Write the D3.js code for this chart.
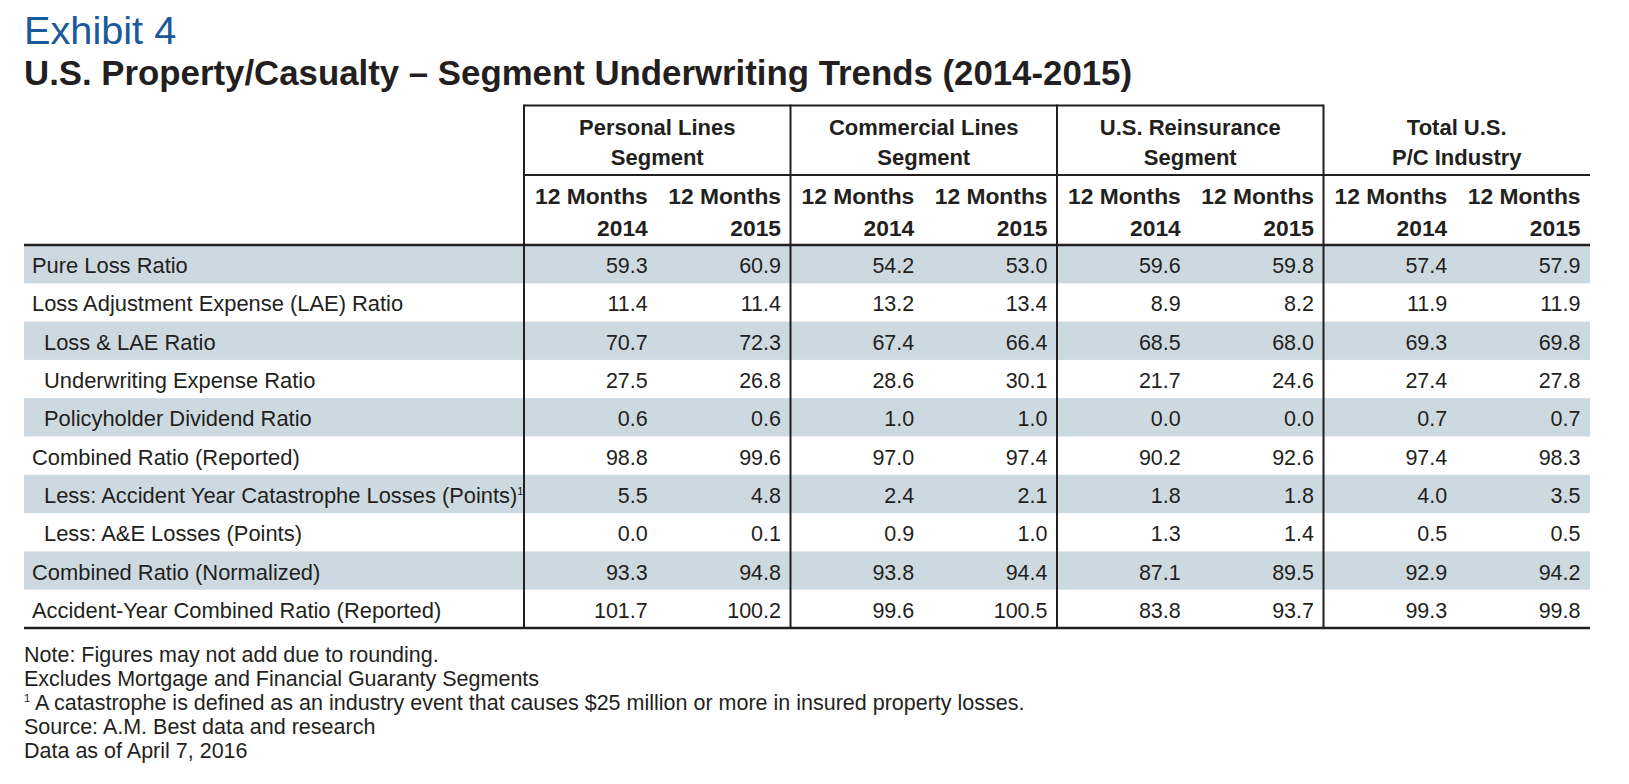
<!DOCTYPE html>
<html>
<head>
<meta charset="utf-8">
<script src="https://cdn.jsdelivr.net/npm/d3@7"></script>
<style>
  html, body { margin: 0; padding: 0; background: #ffffff; }
  svg { display: block; }
  text { font-family: "Liberation Sans", Arial, Helvetica, sans-serif; fill: #231f20; }
</style>
</head>
<body>
<svg id="chart" width="1629" height="784"></svg>
<script>
// ---------- DATA ----------
const exhibitLabel = "Exhibit 4";
const chartTitle = "U.S. Property/Casualty \u2013 Segment Underwriting Trends (2014-2015)";

const segmentKeys = ["personal", "commercial", "reinsurance", "total"];
const segmentLine1 = ["Personal Lines", "Commercial Lines", "U.S. Reinsurance", "Total U.S."];
const segmentLine2 = ["Segment", "Segment", "Segment", "P/C Industry"];
const periodKeys = ["2014", "2015"];
const periodLine1 = ["12 Months", "12 Months"];

const rowLabels = [
  "Pure Loss Ratio",
  "Loss Adjustment Expense (LAE) Ratio",
  "Loss & LAE Ratio",
  "Underwriting Expense Ratio",
  "Policyholder Dividend Ratio",
  "Combined Ratio (Reported)",
  "Less: Accident Year Catastrophe Losses (Points)",
  "Less: A&E Losses (Points)",
  "Combined Ratio (Normalized)",
  "Accident-Year Combined Ratio (Reported)"
];
const rowIndented = [false, false, true, true, true, false, true, true, false, false];
const rowFootnoteMark = ["", "", "", "", "", "", "1", "", "", ""];

const personal2014    = [59.3, 11.4, 70.7, 27.5, 0.6, 98.8, 5.5, 0.0, 93.3, 101.7];
const personal2015    = [60.9, 11.4, 72.3, 26.8, 0.6, 99.6, 4.8, 0.1, 94.8, 100.2];
const commercial2014  = [54.2, 13.2, 67.4, 28.6, 1.0, 97.0, 2.4, 0.9, 93.8, 99.6];
const commercial2015  = [53.0, 13.4, 66.4, 30.1, 1.0, 97.4, 2.1, 1.0, 94.4, 100.5];
const reinsurance2014 = [59.6, 8.9, 68.5, 21.7, 0.0, 90.2, 1.8, 1.3, 87.1, 83.8];
const reinsurance2015 = [59.8, 8.2, 68.0, 24.6, 0.0, 92.6, 1.8, 1.4, 89.5, 93.7];
const total2014       = [57.4, 11.9, 69.3, 27.4, 0.7, 97.4, 4.0, 0.5, 92.9, 99.3];
const total2015       = [57.9, 11.9, 69.8, 27.8, 0.7, 98.3, 3.5, 0.5, 94.2, 99.8];

const footnotes = [
  {mark: "", text: "Note: Figures may not add due to rounding."},
  {mark: "", text: "Excludes Mortgage and Financial Guaranty Segments"},
  {mark: "1", text: " A catastrophe is defined as an industry event that causes $25 million or more in insured property losses."},
  {mark: "", text: "Source: A.M. Best data and research"},
  {mark: "", text: "Data as of April 7, 2016"}
];

// table built from the arrays
const seriesValues = {
  personal:    {"2014": personal2014,    "2015": personal2015},
  commercial:  {"2014": commercial2014,  "2015": commercial2015},
  reinsurance: {"2014": reinsurance2014, "2015": reinsurance2015},
  total:       {"2014": total2014,       "2015": total2015}
};

// ---------- LAYOUT ----------
const ink = "#231f20";
const shade = "#cdd9e1";
const tableLeft = 24, tableRight = 1590;
const boxTop = 105.5, groupLineY = 175, headerBottom = 245, tableBottom = 628;
const segLeft = 524;

const svg = d3.select("#chart");

const xSeg = d3.scaleBand().domain(segmentKeys).range([segLeft, tableRight]);
const xPer = d3.scaleBand().domain(periodKeys).range([0, xSeg.bandwidth()]);
const yRow = d3.scaleBand().domain(rowLabels).range([headerBottom, tableBottom]);
const fmt = d3.format(".1f");
const colRight = (s, p) => xSeg(s) + xPer(p) + xPer.bandwidth() - 9.5;

// Titles
svg.append("text")
  .attr("x", 24).attr("y", 44)
  .style("font-size", "39.7px")
  .style("fill", "#1a5a9c")
  .text(exhibitLabel);

svg.append("text")
  .attr("x", 24).attr("y", 85)
  .style("font-size", "34.8px")
  .style("font-weight", "bold")
  .text(chartTitle);

// Row shading
svg.append("g").selectAll("rect")
  .data(rowLabels.filter((d, i) => i % 2 === 0))
  .join("rect")
  .attr("x", tableLeft)
  .attr("y", d => yRow(d))
  .attr("width", tableRight - tableLeft)
  .attr("height", yRow.bandwidth())
  .attr("fill", shade);

// Group headers
const gHead = svg.append("g");
segmentKeys.forEach((s, i) => {
  const cx = xSeg(s) + xSeg.bandwidth() / 2;
  gHead.append("text").attr("x", cx).attr("y", 135)
    .attr("text-anchor", "middle")
    .style("font-size", "22px").style("font-weight", "bold")
    .text(segmentLine1[i]);
  gHead.append("text").attr("x", cx).attr("y", 165)
    .attr("text-anchor", "middle")
    .style("font-size", "22px").style("font-weight", "bold")
    .text(segmentLine2[i]);
  periodKeys.forEach((p, j) => {
    gHead.append("text").attr("x", colRight(s, p)).attr("y", 204)
      .attr("text-anchor", "end")
      .style("font-size", "22.8px").style("font-weight", "bold")
      .text(periodLine1[j]);
    gHead.append("text").attr("x", colRight(s, p)).attr("y", 235.5)
      .attr("text-anchor", "end")
      .style("font-size", "22.8px").style("font-weight", "bold")
      .text(p);
  });
});

// Row labels
const gLab = svg.append("g");
rowLabels.forEach((r, i) => {
  const t = gLab.append("text")
    .attr("x", rowIndented[i] ? 44 : 32)
    .attr("y", yRow(r) + yRow.bandwidth() / 2 + 9)
    .style("font-size", "21.9px")
    .text(r);
  if (rowFootnoteMark[i]) {
    t.append("tspan")
      .attr("dy", -8)
      .style("font-size", "11px")
      .text(rowFootnoteMark[i]);
  }
});

// Values
const gVal = svg.append("g");
segmentKeys.forEach(s => {
  periodKeys.forEach(p => {
    gVal.selectAll(null)
      .data(seriesValues[s][p])
      .join("text")
      .attr("x", colRight(s, p))
      .attr("y", (d, i) => yRow(rowLabels[i]) + yRow.bandwidth() / 2 + 9)
      .attr("text-anchor", "end")
      .style("font-size", "21.5px")
      .text(d => fmt(d));
  });
});

// Rules
const gLines = svg.append("g").attr("stroke", ink).attr("fill", "none");
gLines.append("line")
  .attr("x1", xSeg("personal")).attr("x2", xSeg("total"))
  .attr("y1", boxTop).attr("y2", boxTop).attr("stroke-width", 2);
gLines.append("line")
  .attr("x1", xSeg("personal")).attr("x2", tableRight)
  .attr("y1", groupLineY).attr("y2", groupLineY).attr("stroke-width", 2);
gLines.append("line")
  .attr("x1", tableLeft).attr("x2", tableRight)
  .attr("y1", headerBottom).attr("y2", headerBottom).attr("stroke-width", 2.5);
gLines.append("line")
  .attr("x1", tableLeft).attr("x2", tableRight)
  .attr("y1", tableBottom).attr("y2", tableBottom).attr("stroke-width", 2.5);
gLines.selectAll(null)
  .data(segmentKeys)
  .join("line")
  .attr("x1", d => xSeg(d)).attr("x2", d => xSeg(d))
  .attr("y1", boxTop - 1).attr("y2", tableBottom)
  .attr("stroke-width", 2);

// Footnotes
const gFoot = svg.append("g");
footnotes.forEach((f, i) => {
  const t = gFoot.append("text")
    .attr("x", 24).attr("y", 662 + i * 24)
    .style("font-size", "21.5px");
  if (f.mark) {
    t.append("tspan").attr("dy", -8).style("font-size", "11px").text(f.mark);
    t.append("tspan").attr("dy", 8).text(f.text);
  } else {
    t.text(f.text);
  }
});
</script>
</body>
</html>
